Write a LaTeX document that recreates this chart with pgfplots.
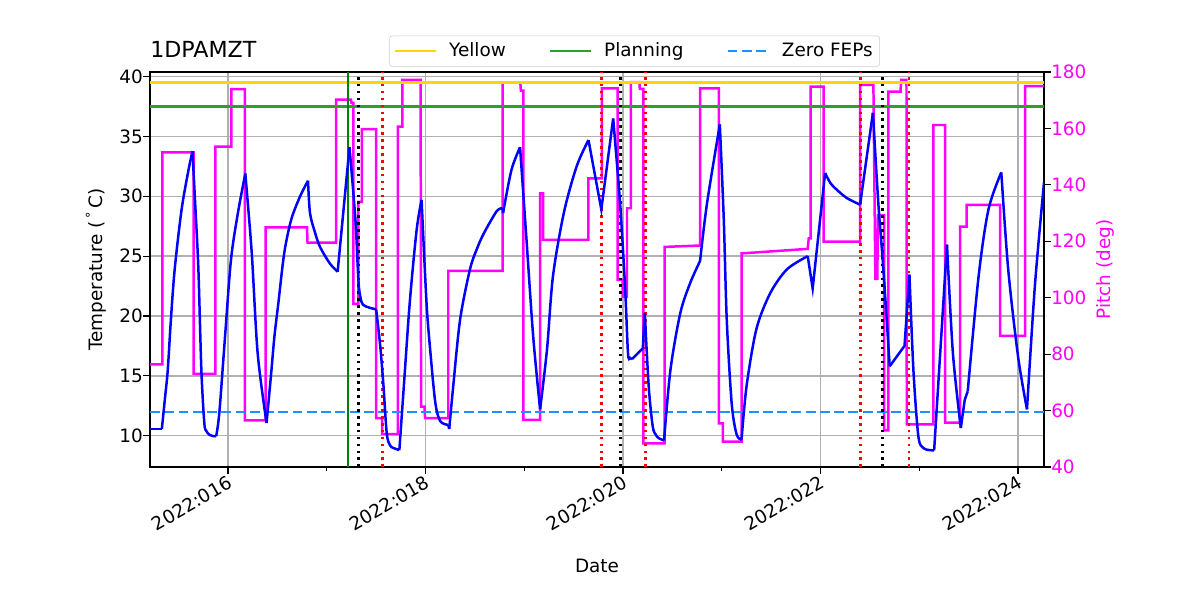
\documentclass[border=0pt]{standalone}
\usepackage{fontspec}
\setmainfont{DejaVu Sans}
\usepackage{pgfplots}
\pgfplotsset{compat=1.18}
\definecolor{pmag}{HTML}{FF00FF}
\definecolor{tblue}{HTML}{0000FF}
\definecolor{ygold}{HTML}{FFD700}
\definecolor{pgreen}{HTML}{2CA02C}
\definecolor{vgreen}{HTML}{008000}
\definecolor{zblue}{HTML}{1E90FF}
\definecolor{gridgray}{HTML}{B0B0B0}
\definecolor{pred}{HTML}{FF0000}
\pgfplotsset{
  base/.style={
    scale only axis, width=646.1pt, height=285.5pt,
    at={(108.4pt,96.1pt)}, anchor=south west,
    xmin=15.21, xmax=24.263,
    /pgf/number format/assume math mode=true,
    tick align=outside,
    major tick length=5pt, minor tick length=3pt,
    tick style={black, line width=0.9pt},
    axis line style={line width=1.3pt},
  },
  tempy/.style={ymin=7.38, ymax=40.39},
  tb/.style={tblue, line width=1.8pt, smooth, forget plot},
  tl/.style={tblue, line width=1.8pt, forget plot},
  vdot/.style={line width=1.9pt, dash pattern=on 1.9pt off 3.1pt, forget plot},
}
\begin{document}
\fontsize{13.3}{16}\selectfont
\begin{tikzpicture}
\path[use as bounding box] (0,0) rectangle (867.2pt,433.6pt);
% axis 1: temperature frame, grid, labels
\begin{axis}[base, tempy,
  xtick={16,18,20,22,24},
  xticklabels={2022:016,2022:018,2022:020,2022:022,2022:024},
  minor xtick={17,19,21,23},
  ytick={10,15,20,25,30,35,40},
  xtick pos=bottom, ytick pos=left,
  xmajorgrids, ymajorgrids,
  major grid style={gridgray, line width=1.05pt},
  xticklabel style={rotate=30, anchor=north east, inner sep=0pt, xshift=-1.2pt},
  yticklabel style={inner sep=0pt},
  xlabel={Date},
  ylabel={Temperature (\,\textsuperscript{°}\,C)},
  xlabel style={at={([yshift=-71.5pt]rel axis cs:0.5,0)}, anchor=center},
  ylabel style={at={([xshift=-39pt]rel axis cs:0,0.5)}, anchor=center},
  title={1DPAMZT},
  title style={at={(0,1)}, anchor=south west, inner sep=0pt, yshift=4pt, font=\fontsize{16}{19}\selectfont},
]
\addplot[draw=none, forget plot] coordinates {(16,20)};
\end{axis}
% axis 2: pitch
\begin{axis}[base, ymin=40, ymax=180,
  ytick={40,60,80,100,120,140,160,180},
  axis x line=none, axis y line*=right,
  yticklabel style={text=pmag, inner sep=0pt},
  ylabel={Pitch (deg)},
  ylabel style={text=pmag, at={([xshift=44pt]rel axis cs:1,0.5)}, anchor=center},
]
\addplot[pmag, line width=1.8pt] coordinates {
(15.21,76.4) (15.335,76.4) (15.335,151.5) (15.652,151.5) (15.652,73) (15.873,73) (15.873,153.5) (16.035,153.5) (16.035,173.9) (16.17,173.9) (16.17,56.5) (16.38,56.5) (16.38,124.9) (16.80,124.9) (16.805,119.5) (17.095,119.5) (17.095,170.2) (17.245,170.2) (17.25,169) (17.27,169) (17.27,97.8) (17.32,97.8) (17.32,134) (17.355,134) (17.355,159.7) (17.50,159.7) (17.50,57.3) (17.56,57.3) (17.56,51.7) (17.72,51.7) (17.72,160.6) (17.765,160.6) (17.765,177.2) (17.95,177.2) (17.955,61.4) (17.99,61.4) (17.995,57.3) (18.23,57.3) (18.23,109.5) (18.78,109.5) (18.78,176.2) (18.96,176.2) (18.965,173.4) (18.99,173.4) (18.99,56.7) (19.16,56.7) (19.16,137) (19.19,137) (19.19,120.5) (19.65,120.5) (19.65,142.3) (19.785,142.3) (19.785,174.2) (19.945,174.2) (19.945,106.3) (19.995,106.3) (19.995,100.4) (20.04,100.4) (20.04,131.7) (20.08,131.7) (20.08,176.4) (20.165,176.4) (20.17,174) (20.205,174) (20.205,48.4) (20.42,48.4) (20.42,118) (20.78,118.5) (20.78,174.2) (20.97,174.2) (20.97,55.5) (21.01,55.5) (21.01,49) (21.20,49) (21.20,115.7) (21.87,117.3) (21.88,121) (21.90,121) (21.90,174.8) (22.03,174.8) (22.03,119.9) (22.40,119.9) (22.40,175.4) (22.535,175.4) (22.555,106.7) (22.575,106.7) (22.58,129.3) (22.643,129.3) (22.643,53) (22.687,53) (22.687,173) (22.81,173) (22.815,177.2) (22.87,177.2) (22.873,55.1) (23.142,55.1) (23.142,161.2) (23.261,161.2) (23.261,55.7) (23.413,55.7) (23.413,125.2) (23.48,125.2) (23.48,132.9) (23.818,132.9) (23.818,86.5) (24.071,86.5) (24.071,175) (24.263,175)
};
\end{axis}
% axis 3: temperature overlay
\begin{axis}[base, tempy, hide axis,
  legend columns=3,
  legend image code/.code={\draw[#1] (0pt,0pt) -- (30pt,0pt);},
  legend style={at={(0.542,1)}, anchor=south, yshift=3.8pt, draw=black!20, rounded corners=2pt,
    inner xsep=3pt, inner ysep=3pt,
    /tikz/every odd column/.append style={column sep=6.5pt},
    /tikz/every even column/.append style={column sep=29pt}},
]
\addplot[ygold, line width=1.6pt] coordinates {(15.21,39.5) (24.263,39.5)};
\addlegendentry{Yellow}
\addplot[pgreen, line width=1.6pt] coordinates {(15.21,37.5) (24.263,37.5)};
\addlegendentry{Planning}
\addplot[zblue, line width=1.6pt, dash pattern=on 7.2pt off 3.1pt] coordinates {(15.21,12) (24.263,12)};
\addlegendentry{Zero FEPs}
\addplot[vgreen, line width=1.6pt, forget plot] coordinates {(17.218,7.38) (17.218,40.39)};
\addplot[black, vdot] coordinates {(17.32,7.38) (17.32,40.39)};
\addplot[black, vdot] coordinates {(19.977,7.38) (19.977,40.39)};
\addplot[black, vdot] coordinates {(22.626,7.38) (22.626,40.39)};
\addplot[pred, vdot] coordinates {(17.563,7.38) (17.563,40.39)};
\addplot[pred, vdot] coordinates {(19.784,7.38) (19.784,40.39)};
\addplot[pred, vdot] coordinates {(20.226,7.38) (20.226,40.39)};
\addplot[pred, vdot] coordinates {(22.407,7.38) (22.407,40.39)};
\addplot[pred, vdot] coordinates {(22.896,7.38) (22.896,40.39)};
% temperature, in smooth pieces between kinks
\addplot[tl] coordinates {(15.21,10.56) (15.33,10.56)};
\addplot[tb] coordinates {(15.33,10.56) (15.36,13.0) (15.39,15.5) (15.42,19.5) (15.46,23.9) (15.53,28.9) (15.60,32.2) (15.64,33.76)};
\addplot[tb] coordinates {(15.64,33.76) (15.67,29.0) (15.70,23.9) (15.73,15.5) (15.76,11.06) (15.78,10.4) (15.81,10.08) (15.85,9.97) (15.88,9.95)};
\addplot[tb] coordinates {(15.88,9.95) (15.90,11.0) (15.92,12.7) (15.97,18.3) (16.03,24.7) (16.10,28.6) (16.175,31.9)};
\addplot[tb] coordinates {(16.175,31.9) (16.24,25.3) (16.30,16.9) (16.39,11.06)};
\addplot[tb] coordinates {(16.39,11.06) (16.41,12.8) (16.44,15.5) (16.47,18.3) (16.51,21.1) (16.57,25.3) (16.64,28.05) (16.73,30.0) (16.81,31.3)};
\addplot[tb] coordinates {(16.81,31.3) (16.83,28.6) (16.88,27.0) (16.93,25.8) (17.03,24.4) (17.11,23.7)};
\addplot[tl] coordinates {(17.11,23.7) (17.23,34.1)};
\addplot[tb] coordinates {(17.23,34.1) (17.29,28.05) (17.32,23.0) (17.34,21.6) (17.365,20.95) (17.43,20.7) (17.50,20.55)};
\addplot[tb] coordinates {(17.50,20.55) (17.54,17.6) (17.573,14.3) (17.607,10.2) (17.64,9.2) (17.674,8.97) (17.735,8.8)};
\addplot[tb] coordinates {(17.735,8.8) (17.78,14.1) (17.84,21.1) (17.91,27.2) (17.96,29.7)};
\addplot[tb] coordinates {(17.96,29.7) (18.01,21.1) (18.05,16.9) (18.10,12.7) (18.15,11.2) (18.23,10.9)};
\addplot[tl] coordinates {(18.23,10.9) (18.24,10.56)};
\addplot[tb] coordinates {(18.24,10.56) (18.28,14.1) (18.35,19.7) (18.45,23.9) (18.52,25.6) (18.59,26.9) (18.72,28.75) (18.78,29.0)};
\addplot[tl] coordinates {(18.78,29.0) (18.785,28.6)};
\addplot[tb] coordinates {(18.785,28.6) (18.87,32.2) (18.957,34.1)};
\addplot[tb] coordinates {(18.957,34.1) (19.02,26.65) (19.09,18.3) (19.16,12.2)};
\addplot[tb] coordinates {(19.16,12.2) (19.23,17.2) (19.29,23.3) (19.40,28.6) (19.53,32.5) (19.65,34.7)};
\addplot[tl] coordinates {(19.65,34.7) (19.78,28.9) (19.90,36.5)};
\addplot[tb] coordinates {(19.90,36.5) (19.97,29.4) (20.02,22.5) (20.05,16.9) (20.07,16.5) (20.09,16.4)};
\addplot[tl] coordinates {(20.09,16.4) (20.20,17.3) (20.22,20.25)};
\addplot[tb] coordinates {(20.22,20.25) (20.26,14.1) (20.30,10.8) (20.33,10.1) (20.36,9.8) (20.415,9.6)};
\addplot[tb] coordinates {(20.415,9.6) (20.48,15.5) (20.58,20.25) (20.68,22.76) (20.78,24.6)};
\addplot[tb] coordinates {(20.78,24.6) (20.85,29.4) (20.98,36.0)};
\addplot[tb] coordinates {(20.98,36.0) (21.02,28.05) (21.05,19.7) (21.10,12.7) (21.15,10.1) (21.20,9.67)};
\addplot[tb] coordinates {(21.20,9.67) (21.25,14.1) (21.35,18.9) (21.49,21.9) (21.66,23.9) (21.87,25.0)};
\addplot[tl] coordinates {(21.87,25.0) (21.92,22.3) (22.046,31.95)};
\addplot[tb] coordinates {(22.046,31.95) (22.10,31.1) (22.164,30.55) (22.265,29.86) (22.40,29.3)};
\addplot[tl] coordinates {(22.40,29.3) (22.53,36.97)};
\addplot[tb] coordinates {(22.53,36.97) (22.585,29.4) (22.636,23.9) (22.70,15.8)};
\addplot[tl] coordinates {(22.70,15.8) (22.85,17.5) (22.90,23.45)};
\addplot[tb] coordinates {(22.90,23.45) (22.94,15.5) (22.99,9.95) (23.04,8.97) (23.10,8.8) (23.15,8.77)};
\addplot[tl] coordinates {(23.15,8.77) (23.28,25.96)};
\addplot[tb] coordinates {(23.28,25.96) (23.34,16.9) (23.42,10.64)};
\addplot[tl] coordinates {(23.42,10.64) (23.46,13.0) (23.49,13.7)};
\addplot[tb] coordinates {(23.49,13.7) (23.60,23.3) (23.70,28.9) (23.83,32.0)};
\addplot[tb] coordinates {(23.83,32.0) (23.90,23.9) (24.00,16.6) (24.09,12.2)};
\addplot[tb] coordinates {(24.09,12.2) (24.17,22.5) (24.263,31.2)};
\end{axis}
\end{tikzpicture}
\end{document}
